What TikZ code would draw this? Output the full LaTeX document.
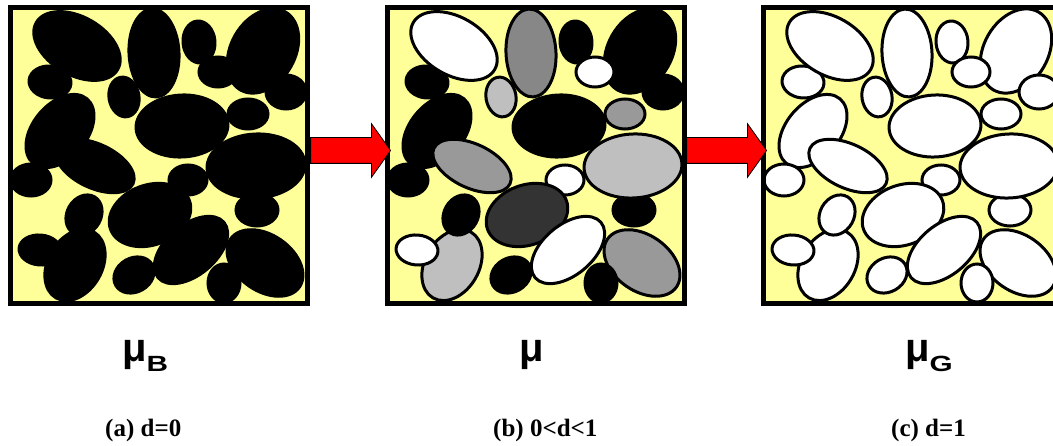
\documentclass[tikz,border=0pt]{standalone}
\usepackage{fontspec}
\usepackage{graphicx}
\usepackage{tikz}
\usetikzlibrary{shapes.arrows}
\newfontfamily\symbfont{Liberation Sans}
\newfontfamily\captfont{Liberation Serif}
\definecolor{matrixyellow}{RGB}{255,255,153}
\definecolor{grainmid}{gray}{0.53}
\definecolor{graingray}{gray}{0.6}
\definecolor{grainlight}{gray}{0.75}
\definecolor{graindark}{gray}{0.2}
\tikzset{
  grain/.style={draw=black, line width=3pt},
  darkgrain/.style={grain, fill=black},
  mixgrain/.style={grain, fill=\gc},
  voidgrain/.style={grain, fill=white},
  panelframe/.style={draw=black, line width=5pt},
  flowarrow/.style={single arrow, draw=black, fill=red, line width=0.8pt,
    inner xsep=0pt, inner ysep=12.5pt, minimum height=80pt,
    single arrow head extend=14pt, single arrow tip angle=109},
  symlabel/.style={font=\symbfont\bfseries\fontsize{40}{40}\selectfont, inner sep=0pt, anchor=base west},
  captlabel/.style={font=\captfont\bfseries\fontsize{25}{25}\selectfont, inner sep=0pt, anchor=base west}
}
\newcommand\subtag[1]{\raisebox{-10pt}{\fontsize{22}{22}\selectfont\scalebox{1.35}[1]{#1}}}
\newcommand\grainpanel[2]{%
  \begin{scope}[shift={(#1,5)}]
    \fill[matrixyellow] (0,0) rectangle (302,301);
    \begin{scope}
      \clip (5,5) rectangle (297,296);
      \foreach \gx/\gy/\ga/\gb/\gt/\gc in {
          42/77/21/16/-5/black, 69/41/47/29/-30/white, 146/48/25/44/3/grainmid,
          116/92/15/20/10/grainlight, 191/37/16/21/5/black, 255/46/45/32/60/black,
          210/67/19/15/0/white, 278/87/20/17/0/black, 52/126/42/27/50/black,
          87/161/42/22/-25/graingray, 174/121/46/31/3/black, 240/109/20/15/0/graingray,
          249/205/21/16/0/black, 248/161/49/32/3/grainlight, 23/175/20/16/0/black,
          180/175/19/15/0/white, 142/210/42/30/20/graindark, 67/260/38/27/60/grainlight,
          76/210/21/17/60/black, 32/245/21/15/-5/white, 183/245/43/25/40/white,
          126/270/21/17/30/black, 257/258/42/28/-35/graingray, 216/278/16/19/0/black}
        \draw[#2] (\gx,\gy) ellipse [x radius=\ga, y radius=\gb, rotate=\gt];
    \end{scope}
    \draw[panelframe] (2.5,2.5) rectangle (299.5,298.5);
  \end{scope}}

\begin{document}
\begin{tikzpicture}[x=1pt, y=-1pt]
  \useasboundingbox (0,0) rectangle (1053,446);

  \grainpanel{8}{darkgrain}
  \grainpanel{385}{mixgrain}
  \grainpanel{761}{voidgrain}

  \node[flowarrow] (arrowab) at (346,150.5) {};
  \node[flowarrow] (arrowbc) at (722,150.5) {};

  \node[symlabel] (mub) at (122,362) {μ\subtag{B}};
  \node[symlabel] (mud) at (519,362) {μ};
  \node[symlabel] (mug) at (905,362) {μ\subtag{G}};

  \node[captlabel] (capa) at (105,436) {(a) d=0};
  \node[captlabel] (capb) at (493,436) {(b) 0<d<1};
  \node[captlabel] (capc) at (891,436) {(c) d=1};
\end{tikzpicture}
\end{document}
